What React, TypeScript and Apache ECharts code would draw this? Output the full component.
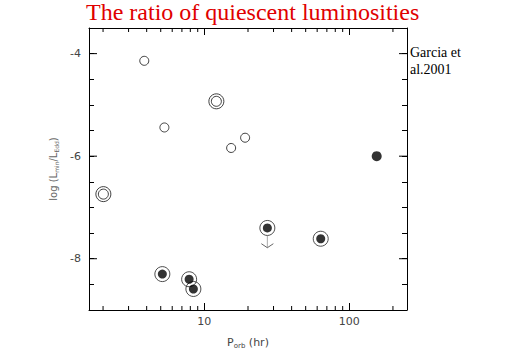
import React, { useEffect, useRef } from "react";
import * as echarts from "echarts";

// Data (orbital period in hr, log(Lmin/LEdd))
const openSmall: number[][] = [
  [3.85, -4.14],
  [5.3, -5.44],
  [19.1, -5.64],
  [15.3, -5.84],
];
const doubleCircle: number[][] = [
  [12.1, -4.93],
  [2.01, -6.74],
];
const ringFilled: number[][] = [
  [27.2, -7.4],
  [63.5, -7.61],
  [5.13, -8.3],
  [7.85, -8.4],
  [8.4, -8.59],
];
const filledPlain: number[][] = [[154.5, -6.0]];
// upper limit: [P, value, arrow tip]
const upperLimit: number[][] = [[27.2, -7.4, -7.785]];

const xMinorTicks: number[] = [2, 3, 4, 5, 6, 7, 8, 9, 20, 30, 40, 50, 60, 70, 80, 90, 200];
const xLabelled: number[] = [10, 100];
const yLabelled: number[] = [-4, -6, -8];

const X_MIN = 1.6;
const X_MAX = 250;
const Y_MIN = -9;
const Y_MAX = -3.5;

const labelFont = "DejaVu Sans";
const labelColor = "#444";

export default function App() {
  const ref = useRef<HTMLDivElement>(null);
  useEffect(() => {
    if (!ref.current) return;
    const chart = echarts.init(ref.current, null, { renderer: "svg" });

    const xAxisBase = {
      type: "log",
      logBase: 10,
      min: X_MIN,
      max: X_MAX,
      splitLine: { show: false },
      axisLine: { show: true, onZero: false, lineStyle: { color: "#000", width: 1 } },
      axisTick: { show: true, inside: true, length: 7, lineStyle: { color: "#000" } },
    };
    const yAxisBase = {
      type: "value",
      min: Y_MIN,
      max: Y_MAX,
      interval: 0.5,
      splitLine: { show: false },
      axisLine: { show: true, onZero: false, lineStyle: { color: "#000", width: 1 } },
      axisTick: { show: true, inside: true, length: 5, lineStyle: { color: "#000" } },
    };

    const option: any = {
      animation: false,
      backgroundColor: "#fff",
      title: {
        text: "The ratio of quiescent luminosities",
        left: 86,
        top: 0,
        padding: 0,
        textStyle: {
          fontFamily: "Liberation Serif",
          fontSize: 24,
          fontWeight: "normal",
          color: "#e00000",
        },
      },
      graphic: [
        {
          type: "text",
          left: 410,
          top: 44,
          style: {
            text: "Garcia et\nal.2001",
            fontFamily: "Liberation Serif",
            fontSize: 14,
            lineHeight: 17,
            fill: "#000",
          },
        },
      ],
      grid: { left: 89, right: 105, top: 28, bottom: 39, containLabel: false },
      xAxis: [
        {
          ...xAxisBase,
          position: "bottom",
          name: "{a|P}{s|orb}{a| (hr)}",
          nameLocation: "middle",
          nameGap: 26,
          nameTextStyle: {
            rich: {
              a: { fontFamily: labelFont, fontSize: 11, color: labelColor },
              s: { fontFamily: labelFont, fontSize: 7, color: labelColor, padding: [6, 0, 0, 0] },
            },
          },
          axisLabel: {
            margin: 6,
            fontFamily: labelFont,
            fontSize: 11,
            color: labelColor,
            formatter: (v: number) => {
              const hit = xLabelled.find((t) => Math.abs(v - t) / t < 1e-3);
              return hit !== undefined ? String(hit) : "";
            },
          },
        },
        {
          ...xAxisBase,
          position: "top",
          axisLabel: { show: false },
        },
      ],
      yAxis: [
        {
          ...yAxisBase,
          position: "left",
          name: "{a|log (L}{s|min}{a|/L}{s|Edd}{a|)}",
          nameLocation: "middle",
          nameRotate: 90,
          nameGap: 30,
          nameTextStyle: {
            rich: {
              a: { fontFamily: labelFont, fontSize: 10, color: "#666" },
              s: { fontFamily: labelFont, fontSize: 6, color: "#666", padding: [6, 0, 0, 0] },
            },
          },
          axisLabel: {
            margin: 8,
            fontFamily: labelFont,
            fontSize: 11,
            color: labelColor,
            formatter: (v: number) => {
              const hit = yLabelled.find((t) => Math.abs(v - t) < 1e-6);
              return hit !== undefined ? String(hit) : "";
            },
          },
        },
        {
          ...yAxisBase,
          position: "right",
          axisLabel: { show: false },
        },
      ],
      series: [
        {
          type: "custom",
          silent: true,
          data: xMinorTicks.map((v) => [v, Y_MIN]),
          renderItem: (params: any, api: any) => {
            const x = api.coord([api.value(0), Y_MIN])[0];
            const cs = params.coordSys;
            const st = { stroke: "#000", lineWidth: 1 };
            return {
              type: "group",
              children: [
                { type: "line", shape: { x1: x, y1: cs.y + cs.height, x2: x, y2: cs.y + cs.height - 4 }, style: st },
                { type: "line", shape: { x1: x, y1: cs.y, x2: x, y2: cs.y + 4 }, style: st },
              ],
            };
          },
        },
        {
          type: "custom",
          silent: true,
          data: yLabelled.map((v) => [X_MIN, v]),
          renderItem: (params: any, api: any) => {
            const y = api.coord([X_MIN, api.value(1)])[1];
            const cs = params.coordSys;
            const st = { stroke: "#000", lineWidth: 1 };
            return {
              type: "group",
              children: [
                { type: "line", shape: { x1: cs.x, y1: y, x2: cs.x + 8, y2: y }, style: st },
                { type: "line", shape: { x1: cs.x + cs.width, y1: y, x2: cs.x + cs.width - 8, y2: y }, style: st },
              ],
            };
          },
        },
        {
          type: "custom",
          silent: true,
          data: upperLimit,
          renderItem: (params: any, api: any) => {
            const p0 = api.coord([api.value(0), api.value(1)]);
            const p1 = api.coord([api.value(0), api.value(2)]);
            const st = { stroke: "#666", lineWidth: 1, fill: "none" };
            return {
              type: "group",
              children: [
                { type: "line", shape: { x1: p0[0], y1: p0[1] + 8, x2: p1[0], y2: p1[1] }, style: { stroke: "#aaa", lineWidth: 1 } },
                {
                  type: "polyline",
                  shape: { points: [[p1[0] - 6, p1[1] - 4], [p1[0], p1[1]], [p1[0] + 6, p1[1] - 4]] },
                  style: st,
                },
              ],
            };
          },
        },
        {
          type: "scatter",
          data: openSmall,
          symbol: "circle",
          symbolSize: 9,
          itemStyle: { color: "#fff", borderColor: "#111", borderWidth: 1 },
        },
        {
          type: "scatter",
          data: doubleCircle,
          symbol: "circle",
          symbolSize: 15,
          itemStyle: { color: "#fff", borderColor: "#111", borderWidth: 1 },
        },
        {
          type: "scatter",
          data: doubleCircle,
          symbol: "circle",
          symbolSize: 10,
          itemStyle: { color: "rgba(0,0,0,0)", borderColor: "#111", borderWidth: 1 },
        },
        {
          type: "scatter",
          data: ringFilled,
          symbol: "circle",
          symbolSize: 15,
          itemStyle: { color: "rgba(0,0,0,0)", borderColor: "#222", borderWidth: 1 },
        },
        {
          type: "scatter",
          data: ringFilled,
          symbol: "circle",
          symbolSize: 9,
          itemStyle: { color: "#000" },
        },
        {
          type: "scatter",
          data: filledPlain,
          symbol: "circle",
          symbolSize: 10,
          itemStyle: { color: "#000" },
        },
      ],
    };
    chart.setOption(option);
    return () => chart.dispose();
  }, []);
  return (
    <div
      ref={ref}
      style={{ position: "fixed", left: 0, top: 0, width: 512, height: 354, background: "#fff" }}
    />
  );
}
